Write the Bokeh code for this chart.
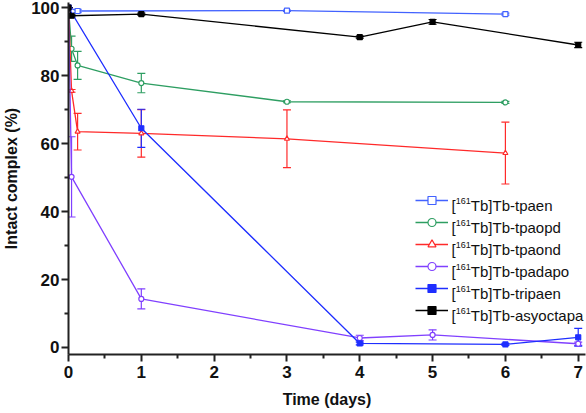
from bokeh.plotting import figure
from bokeh.models import (ColumnDataSource, Whisker, TeeHead, FixedTicker,
                          Legend, LegendItem, Range1d, Label)
from bokeh.embed import file_html
from bokeh.resources import INLINE

# Time points (days) and percentage of intact complex, with error bars
tpaen_t = [0, 0.125, 3, 6]
tpaen_v = [100, 99.0, 99.1, 98.1]
tpaen_e = [0, 0.5, 0.2, 0.3]

tpaopd_t = [0, 0.042, 0.125, 1, 3, 6]
tpaopd_v = [100, 87.9, 83.0, 77.8, 72.3, 72.1]
tpaopd_e = [0, 3.7, 4.1, 2.85, 0.3, 0.3]

tpaond_t = [0, 0.042, 0.125, 1, 3, 6]
tpaond_v = [100, 75.5, 63.5, 63.0, 61.4, 57.2]
tpaond_e = [0, 0.4, 5.4, 7.0, 8.5, 9.1]

tpadapo_t = [0, 0.042, 1, 4, 5, 7]
tpadapo_v = [100, 50.2, 14.3, 2.8, 3.7, 1.1]
tpadapo_e = [0, 11.8, 2.95, 0.8, 1.5, 0.5]

tripaen_t = [0, 1, 4, 6, 7]
tripaen_v = [100, 64.5, 1.2, 0.9, 3.0]
tripaen_e = [0, 5.6, 0.4, 0.3, 2.6]

asyoctapa_t = [0, 0.042, 1, 4, 5, 7]
asyoctapa_v = [100, 97.6, 98.1, 91.3, 95.8, 89.0]
asyoctapa_e = [0, 0.3, 0.3, 0.3, 0.7, 0.8]

x_ticks = [0, 1, 2, 3, 4, 5, 6, 7]
y_ticks = [0, 20, 40, 60, 80, 100]

# (isotope, ligand name, data, colour, marker, fill)
series = [
    ("161", "tpaen", tpaen_t, tpaen_v, tpaen_e, "#4262FF", "square", "white"),
    ("161", "tpaopd", tpaopd_t, tpaopd_v, tpaopd_e, "#2E9E62", "circle", "white"),
    ("161", "tpaond", tpaond_t, tpaond_v, tpaond_e, "#FF2A2A", "triangle", "white"),
    ("161", "tpadapo", tpadapo_t, tpadapo_v, tpadapo_e, "#8040FF", "circle", "white"),
    ("161", "tripaen", tripaen_t, tripaen_v, tripaen_e, "#1E2EFF", "square", None),
    ("161", "asyoctapa", asyoctapa_t, asyoctapa_v, asyoctapa_e, "#000000", "square", None),
]

FONT = "Liberation Sans"

p = figure(width=586, height=413, output_backend="svg", toolbar_location=None,
           x_range=Range1d(0, 7.1), y_range=Range1d(-2.06, 101.5),
           min_border_left=62, min_border_right=1, min_border_top=2,
           min_border_bottom=59)
p.outline_line_color = None
p.xgrid.visible = False
p.ygrid.visible = False

items = []
for iso, name, t, v, e, color, marker, fill in series:
    src = ColumnDataSource(dict(t=t, v=v,
                                lo=[a - b for a, b in zip(v, e)],
                                hi=[a + b for a, b in zip(v, e)]))
    w = Whisker(source=src, base="t", upper="hi", lower="lo",
                line_color=color, line_width=1.2,
                upper_head=TeeHead(size=8, line_color=color, line_width=1.2),
                lower_head=TeeHead(size=8, line_color=color, line_width=1.2))
    p.add_layout(w)
    r_line = p.line("t", "v", source=src, line_color=color, line_width=1.3)
    r_mark = p.scatter("t", "v", source=src, marker=marker, size=5,
                       line_color=color, line_width=1.2,
                       fill_color=fill if fill else color)
    items.append(LegendItem(label=" ", renderers=[r_line, r_mark]))

# legend keys; the text beside them is set separately so the isotope
# number can be raised as a superscript
LEG_X, LEG_Y = 347, 34
ROW_H, SPACING = 20, 2
legend = Legend(items=items, location=(LEG_X, LEG_Y))
legend.border_line_alpha = 0
legend.background_fill_alpha = 0
legend.padding = 0
legend.margin = 0
legend.spacing = SPACING
legend.glyph_width = 33
legend.glyph_height = ROW_H
legend.label_height = ROW_H
legend.label_standoff = 0
legend.label_text_font_size = "1px"
p.add_layout(legend)

n = len(series)
leg_h = n * ROW_H + (n - 1) * SPACING
text_x = LEG_X + 36
for i, (iso, name, *_rest) in enumerate(series):
    y_mid = LEG_Y + leg_h - ROW_H / 2 - i * (ROW_H + SPACING)
    common = dict(x_units="screen", y_units="screen", text_font=FONT,
                  text_color="#111111", text_baseline="alphabetic")
    p.add_layout(Label(x=text_x, y=y_mid - 5, text="[",
                       text_font_size="15px", **common))
    p.add_layout(Label(x=text_x + 4.3, y=y_mid - 0.5, text=iso,
                       text_font_size="9px", **common))
    p.add_layout(Label(x=text_x + 19.3, y=y_mid - 5, text="Tb]Tb-" + name,
                       text_font_size="15px", **common))

for ax in (p.xaxis[0], p.yaxis[0]):
    ax.axis_line_width = 2
    ax.axis_line_color = "#222222"
    ax.major_tick_line_width = 2
    ax.minor_tick_line_width = 2
    ax.major_tick_line_color = "#222222"
    ax.minor_tick_line_color = "#222222"
    ax.major_tick_in = 0
    ax.major_tick_out = 7
    ax.minor_tick_in = 0
    ax.minor_tick_out = 4
    ax.major_label_text_font = FONT
    ax.major_label_text_font_style = "bold"
    ax.major_label_text_font_size = "17px"
    ax.major_label_text_color = "#111111"
    ax.axis_label_text_font = FONT
    ax.axis_label_text_font_style = "bold"
    ax.axis_label_text_font_size = "16px"
    ax.axis_label_text_color = "#111111"

p.xaxis.ticker = FixedTicker(ticks=x_ticks,
                             minor_ticks=[i + 0.5 for i in range(7)])
p.yaxis.ticker = FixedTicker(ticks=y_ticks,
                             minor_ticks=[10, 30, 50, 70, 90])
p.xaxis.axis_label = "Time (days)"
p.yaxis.axis_label = "Intact complex (%)"
p.xaxis.major_label_standoff = 4
p.yaxis.major_label_standoff = 2
p.xaxis.axis_label_standoff = 10
p.yaxis.axis_label_standoff = 8

open("out.html", "w").write(file_html(p, INLINE))
